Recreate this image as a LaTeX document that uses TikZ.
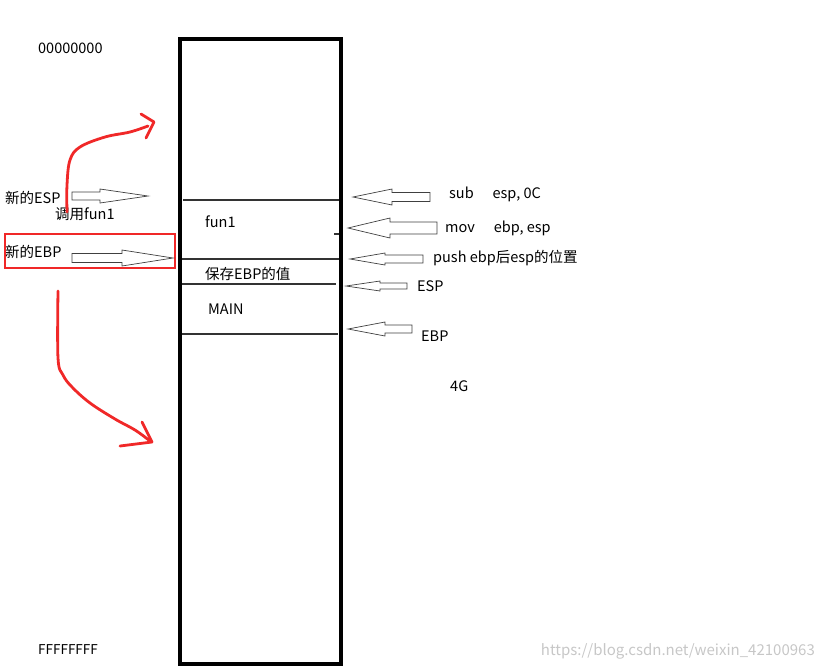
\documentclass[tikz,border=0pt]{standalone}
\usepackage{fontspec}
\setmainfont{Noto Sans CJK SC}
\usetikzlibrary{calc}

\definecolor{pen}{RGB}{240,40,40}

\tikzset{
  lbl/.style={anchor=west, inner sep=0pt, font=\fontsize{14.5}{16}\selectfont},
  hollow/.style={draw=black!75, line width=0.7pt, fill=white},
  redpen/.style={draw=pen, line width=2.8pt, line cap=round, line join=round},
  slot/.style={draw=black!80, line width=1.1pt}
}

% hollow arrow: tip, tail, head length (signed), head half width, shaft half width
\newcommand{\hollowarrow}[5]{%
  \draw[hollow] let \p1=(#1), \p2=(#2) in
    (\p1) -- (\x1+#3, \y1+#4) -- (\x1+#3, \y1+#5) -- (\x2, \y1+#5)
    -- (\x2, \y1-#5) -- (\x1+#3, \y1-#5) -- (\x1+#3, \y1-#4) -- cycle;}

\begin{document}
\begin{tikzpicture}[x=1pt, y=-1pt]
    \useasboundingbox (0,0) rectangle (826,670);

    % stack
    \draw[line width=4pt] (180,39) rectangle (341,664);
    \draw[slot] (183,200) -- (339,200);
    \draw[slot] (334,234) -- (339,234);
    \draw[slot] (182,259) -- (339,259);
    \draw[slot] (182,284) -- (336,284);
    \draw[slot] (182,334) -- (338,334);

    \node[lbl] (fun) at (205,222) {fun1};
    \node[lbl] (save) at (205,274) {保存EBP的值};
    \node[lbl] (main) at (208,309) {MAIN};

    \node[lbl] (low) at (38,48) {00000000};
    \node[lbl, font=\fontsize{13.5}{15}\selectfont] (high) at (38,650) {FFFFFFFF};
    \node[lbl] (fourg) at (450,386) {4G};

    % right side
    \node[lbl] (sub) at (449,194) {sub\hspace{1.3em}esp, 0C};
    \node[lbl] (mov) at (445,228) {mov\hspace{1.3em}ebp, esp};
    \node[lbl] (push) at (433,258) {push ebp后esp的位置};
    \node[lbl] (esp) at (417,286) {ESP};
    \node[lbl] (ebp) at (421,336) {EBP};

    \coordinate (t1) at (353,197);  \coordinate (a1) at (430,197);
    \coordinate (t2) at (348,228);  \coordinate (a2) at (437,228);
    \coordinate (t3) at (350,259);  \coordinate (a3) at (423,259);
    \coordinate (t4) at (346,286);  \coordinate (a4) at (407,286);
    \coordinate (t5) at (348,329);  \coordinate (a5) at (412,329);
    \hollowarrow{t1}{a1}{39pt}{8pt}{4.5pt}
    \hollowarrow{t2}{a2}{42pt}{10pt}{6pt}
    \hollowarrow{t3}{a3}{35pt}{6pt}{4pt}
    \hollowarrow{t4}{a4}{34pt}{5pt}{3pt}
    \hollowarrow{t5}{a5}{37pt}{7pt}{4pt}

    % left side
    \node[lbl] (newesp) at (5,198) {新的ESP};
    \node[lbl] (call) at (55,214) {调用fun1};
    \node[lbl] (newebp) at (5,252) {新的EBP};
    \draw[pen, line width=2.2pt] (5,234) rectangle (175,268);

    \coordinate (t6) at (148,196);  \coordinate (a6) at (72,196);
    \coordinate (t7) at (173,258);  \coordinate (a7) at (72,258);
    \hollowarrow{t6}{a6}{-48pt}{7pt}{4pt}
    \hollowarrow{t7}{a7}{-51pt}{8pt}{4.5pt}

    % red strokes
    \draw[redpen] plot[smooth, tension=0.6] coordinates
      {(67,212) (67,185) (70,160) (80,147) (105,137) (130,132) (148,126)};
    \draw[redpen] (141,114) -- (154,122) -- (146,138);
    \draw[redpen] plot[smooth, tension=0.6] coordinates
      {(58,291) (58,358) (63,375) (72,387) (90,403) (115,419) (135,430) (150,441)};
    \draw[redpen] (142,422) -- (152,442) -- (120,446);

    \node[anchor=east, inner sep=0pt, text=black!22, font=\fontsize{15}{17}\selectfont] (mark) at (815,651) {https://blog.csdn.net/weixin\_42100963};
\end{tikzpicture}
\end{document}
